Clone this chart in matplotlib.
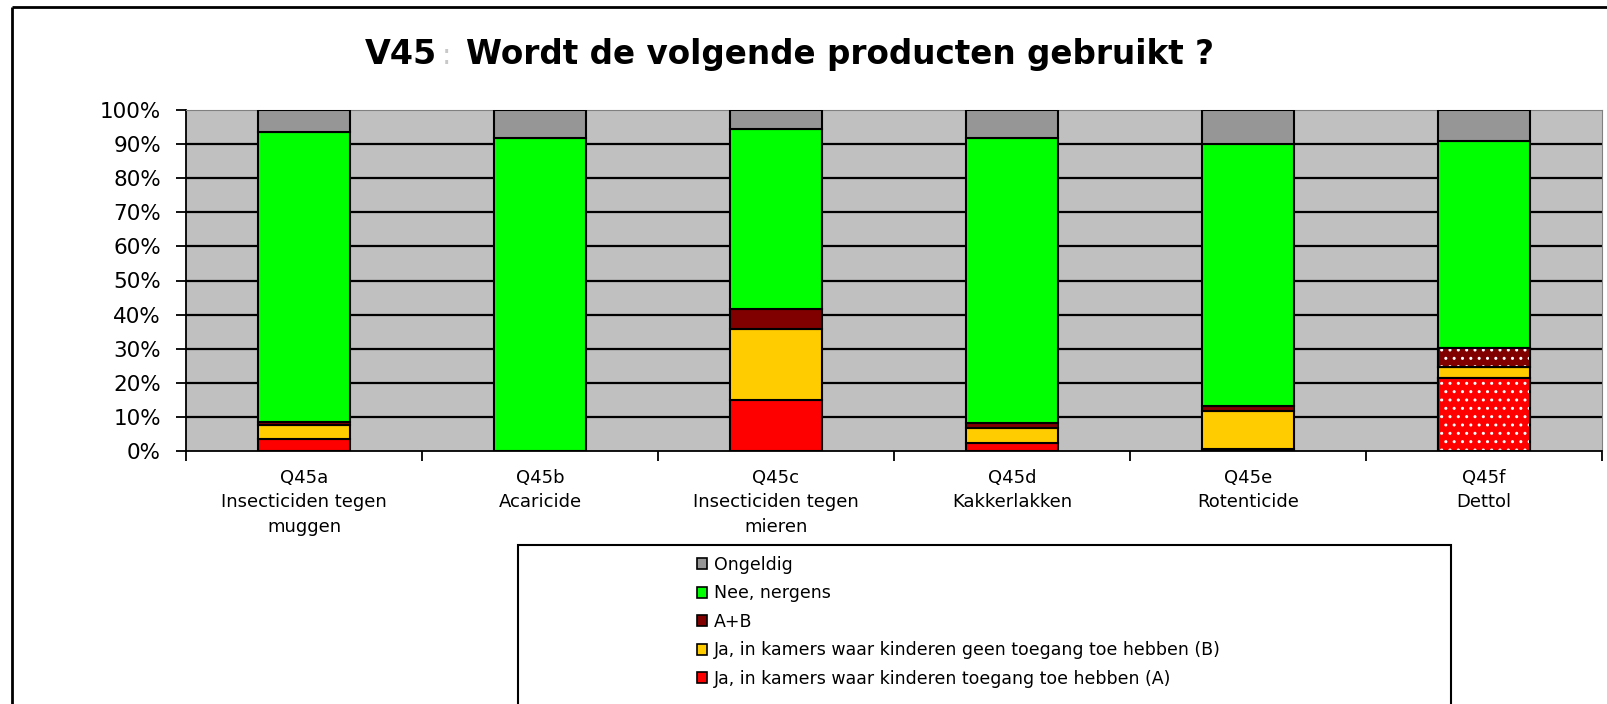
import matplotlib
matplotlib.use("Agg")
import matplotlib.pyplot as plt
from matplotlib.patches import Patch, Rectangle
from matplotlib.lines import Line2D
import numpy as np

# data (percent of answers)
categories = ["Q45a\nInsecticiden tegen\nmuggen", "Q45b\nAcaricide",
              "Q45c\nInsecticiden tegen\nmieren", "Q45d\nKakkerlakken",
              "Q45e\nRotenticide", "Q45f\nDettol"]
ja_a = [3.6, 0.0, 14.9, 2.4, 0.5, 21.4]       # Ja, kinderen toegang (A)
ja_b = [4.1, 0.0, 21.0, 4.2, 11.1, 3.3]       # Ja, geen toegang (B)
a_plus_b = [0.8, 0.0, 5.7, 1.6, 1.5, 5.5]
nee = [85.1, 91.9, 52.7, 83.5, 76.9, 60.8]
ongeldig = [6.4, 8.1, 5.7, 8.3, 10.0, 9.0]

series = [
    ("Ja, in kamers waar kinderen toegang toe hebben (A)", ja_a, "#ff0000"),
    ("Ja, in kamers waar kinderen geen toegang toe hebben (B)", ja_b, "#ffcc00"),
    ("A+B", a_plus_b, "#800000"),
    ("Nee, nergens", nee, "#00ff00"),
    ("Ongeldig", ongeldig, "#969696"),
]
# the Dettol bar has a dotted fill for these two series
dotted = {"Ja, in kamers waar kinderen toegang toe hebben (A)", "A+B"}

plt.rcParams['font.family'] = ['DejaVu Sans']

W, H = 1608, 704
fig = plt.figure(figsize=(W / 100, H / 100), dpi=100)
ax = fig.add_axes([186 / W, 1 - 451 / H, (1602 - 186) / W, (451 - 110) / H])
ax.set_facecolor("#c0c0c0")

x = np.arange(len(categories))
bottom = np.zeros(len(categories))
width = 0.39
for name, vals, col in series:
    vals = np.array(vals)
    ax.bar(x, vals, width, bottom=bottom, color=col, edgecolor="black",
           linewidth=1.5, zorder=3)
    if name in dotted:
        ax.bar(x[-1:], vals[-1:], width, bottom=bottom[-1:], color=col,
               edgecolor="white", hatch="..", linewidth=0, zorder=4)
        ax.bar(x[-1:], vals[-1:], width, bottom=bottom[-1:], fill=False,
               edgecolor="black", linewidth=1.5, zorder=5)
    bottom += vals

ax.set_xlim(-0.5, len(categories) - 0.5)
ax.set_ylim(0, 100)
ax.set_yticks(np.arange(0, 101, 10))
ax.set_yticklabels(["%d%%" % v for v in range(0, 101, 10)], fontsize=15.5)
ax.tick_params(axis="y", direction="out", length=7, width=1.3, pad=11)
for v in range(10, 100, 10):
    ax.axhline(v, color="black", linewidth=1.6, zorder=2)

ax.set_xticks(x)
ax.set_xticklabels(categories, fontsize=13)
for lab in ax.get_xticklabels():
    lab.set_linespacing(1.45)
ax.tick_params(axis="x", length=0, pad=13)
ax.set_xticks(np.arange(-0.5, len(categories), 1), minor=True)
ax.tick_params(axis="x", which="minor", direction="out", length=7, width=1.3)

ax.spines["left"].set_color("black")
ax.spines["bottom"].set_color("black")
ax.spines["left"].set_linewidth(1.3)
ax.spines["bottom"].set_linewidth(1.3)
ax.spines["top"].set_color("#808080")
ax.spines["right"].set_color("#808080")

# title
fig.text(365 / W, 1 - 64 / H, "V45", fontsize=24, fontweight="bold",
         va="baseline", ha="left")
fig.text(442 / W, 1 - 64 / H, ":", fontsize=20, color="#c8c8c8",
         va="baseline", ha="left")
fig.text(466 / W, 1 - 64 / H, "Wordt de volgende producten gebruikt ?",
         fontsize=23.5, fontweight="bold", va="baseline", ha="left")

# legend box running off the bottom edge
fig.patches.append(Rectangle((518 / W, -0.05), (1451 - 518) / W, 0.05 + 1 - 545 / H,
                             transform=fig.transFigure, facecolor="white",
                             edgecolor="black", linewidth=1.5))
handles = [Patch(facecolor=col, edgecolor="black", linewidth=1.2)
           for name, vals, col in series[::-1]]
labels = [name for name, vals, col in series[::-1]]
fig.legend(handles, labels, loc="upper left", bbox_to_anchor=(690 / W, 1 - 549 / H),
           frameon=False, fontsize=12.5, handlelength=0.6, handleheight=0.6,
           handletextpad=0.4, labelspacing=0.6, borderaxespad=0)

# outer frame of the original chart
fig.add_artist(Line2D([12 / W, 12 / W], [0, 1 - 7 / H], color="black", linewidth=2,
                      transform=fig.transFigure, solid_capstyle="butt"))
fig.add_artist(Line2D([12 / W, 1.01], [1 - 7 / H, 1 - 7 / H], color="black", linewidth=2,
                      transform=fig.transFigure, solid_capstyle="butt"))

fig.savefig("out.png", dpi=100)
